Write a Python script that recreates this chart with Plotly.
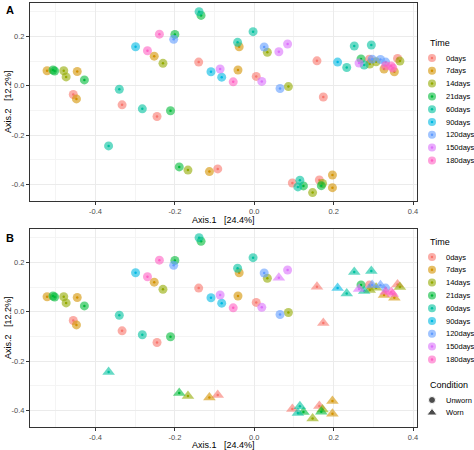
import plotly.graph_objects as go

time_levels = ["0days","7days","14days","21days","60days","90days","120days","150days","180days"]
time_colors = ["#F8766D","#D39200","#93AA00","#00BA38","#00C19F","#00B9E3","#619CFF","#DB72FB","#FF61C3"]
condition_levels = ["Unworn", "Worn"]

axis1 = [-0.522,-0.507,-0.503,-0.480,-0.474,-0.446,-0.428,-0.456,-0.448,-0.340,-0.333,-0.367,
         -0.299,-0.269,-0.252,-0.230,-0.239,-0.200,-0.203,-0.282,-0.245,-0.211,-0.139,-0.134,
         -0.140,-0.109,-0.086,-0.082,-0.053,-0.189,-0.167,-0.113,-0.092,
         -0.003,-0.042,-0.038,0.025,0.033,0.062,0.084,-0.041,0.005,0.019,0.065,0.086,
         0.158,0.174,0.210,0.233,0.252,0.295,
         0.269,0.264,0.277,0.291,0.290,0.297,0.307,0.318,0.331,0.327,0.331,0.345,0.349,0.353,0.361,0.367,
         0.096,0.115,0.110,0.124,0.147,0.164,0.172,0.169,0.197,0.197]
axis2 = [0.061,0.064,0.060,0.061,0.036,0.058,0.024,-0.035,-0.053,-0.014,-0.077,-0.243,
         0.158,0.142,0.120,0.091,0.209,0.208,0.188,-0.093,-0.124,-0.101,0.300,0.285,
         0.096,0.057,0.068,0.035,0.016,-0.328,-0.341,-0.347,-0.336,
         0.219,0.176,0.158,0.157,0.136,0.138,0.169,0.064,0.038,0.018,-0.011,-0.003,
         0.101,-0.045,0.096,0.074,0.161,0.165,
         0.109,0.092,0.084,0.088,0.108,0.108,0.097,0.107,0.096,0.068,0.081,0.080,0.072,0.057,0.111,0.100,
         -0.393,-0.382,-0.409,-0.405,-0.432,-0.381,-0.395,-0.404,-0.361,-0.412]
time = ["7days","21days","21days","14days","14days","7days","21days","0days","7days","60days","0days","60days",
        "90days","180days","7days","14days","180days","21days","120days","60days","0days","21days","60days","21days",
        "0days","90days","150days","90days","180days","21days","14days","7days","0days",
        "60days","60days","7days","120days","14days","150days","150days","7days","0days","150days","120days","14days",
        "0days","0days","90days","60days","60days","60days",
        "21days","150days","60days","14days","0days","120days","14days","120days","120days","7days","180days","180days","180days","7days","0days","14days",
        "0days","60days","60days","21days","14days","0days","14days","21days","7days","7days"]
condition = ["Unworn"]*11 + ["Worn"] + ["Unworn"]*17 + ["Worn"]*4 + \
            ["Unworn"]*5 + ["Worn"] + ["Unworn"]*6 + ["Worn"]*6 + \
            ["Unworn","Worn","Worn","Worn","Unworn","Worn","Worn","Worn","Unworn","Worn","Worn","Worn","Worn","Worn","Worn","Worn"] + \
            ["Worn"]*10

fig = go.Figure()
panels = [("x", "y", False), ("x2", "y2", True)]
for xa, ya, use_shape in panels:
    for t, c in zip(time_levels, time_colors):
        idx = [i for i, v in enumerate(time) if v == t]
        xs = [axis1[i] for i in idx]
        ys = [axis2[i] for i in idx]
        syms = [("triangle-up" if condition[i] == "Worn" else "circle") if use_shape else "circle" for i in idx]
        sizes = [11 if s == "triangle-up" else 9 for s in syms]
        fig.add_trace(go.Scatter(x=xs, y=ys, mode="markers", xaxis=xa, yaxis=ya,
                                 marker=dict(color=c, size=sizes, symbol=syms, opacity=0.6, line=dict(width=0)),
                                 showlegend=False, hoverinfo="skip"))
        fig.add_trace(go.Scatter(x=xs, y=ys, mode="markers", xaxis=xa, yaxis=ya,
                                 marker=dict(color=c, size=2.5, opacity=1), showlegend=False))

# hand-built legends on an overlay axis measured in pixels (0 at top)
ann = []
step = 12.8
def time_legend(top):
    ys = [top + 15 + step * i for i in range(len(time_levels))]
    fig.add_trace(go.Scatter(x=[432] * len(ys), y=ys, mode="markers", xaxis="x3", yaxis="y3",
                             marker=dict(color=time_colors, size=8, opacity=0.6), showlegend=False, hoverinfo="skip"))
    fig.add_trace(go.Scatter(x=[432] * len(ys), y=ys, mode="markers", xaxis="x3", yaxis="y3",
                             marker=dict(color=time_colors, size=2.5), showlegend=False, hoverinfo="skip"))
    ann.append(dict(text="Time", x=428, y=top, xref="x3", yref="y3", showarrow=False,
                    xanchor="left", yanchor="middle", font=dict(size=9)))
    for lab, yy in zip(time_levels, ys):
        ann.append(dict(text=lab, x=444, y=yy, xref="x3", yref="y3", showarrow=False,
                        xanchor="left", yanchor="middle", font=dict(size=7.5)))
time_legend(43)
time_legend(242)
ctop = 385
cys = [ctop + 15 + step * i for i in range(len(condition_levels))]
fig.add_trace(go.Scatter(x=[432] * 2, y=cys, mode="markers", xaxis="x3", yaxis="y3",
                         marker=dict(color="black", size=[7, 9], symbol=["circle", "triangle-up"]),
                         showlegend=False, hoverinfo="skip"))
ann.append(dict(text="Condition", x=428, y=ctop, xref="x3", yref="y3", showarrow=False,
                xanchor="left", yanchor="middle", font=dict(size=9)))
for lab, yy in zip(condition_levels, cys):
    ann.append(dict(text=lab, x=444, y=yy, xref="x3", yref="y3", showarrow=False,
                    xanchor="left", yanchor="middle", font=dict(size=7.5)))

axis_common = dict(range=[-0.565, 0.41], showline=True, linecolor="#333333", mirror=True, linewidth=1,
                   gridcolor="#ebebeb", zeroline=False, tickvals=[-0.4, -0.2, 0.0, 0.2, 0.4],
                   ticktext=["-0.4", "-0.2", "0.0", "0.2", "0.4"], ticks="outside", ticklen=3, tickcolor="#333333",
                   tickfont=dict(size=7.5, color="#4d4d4d"),
                   minor=dict(dtick=0.1, tick0=0.1, showgrid=True, gridcolor="#f4f4f4"))
yaxis_common = dict(axis_common, range=[-0.466, 0.335], tickvals=[-0.4, -0.2, 0.0, 0.2],
                    ticktext=["-0.4", "-0.2", "0.0", "0.2"])
for ty, txt in [(0.512, "Axis.1   [24.4%]"), (0.012, "Axis.1   [24.4%]")]:
    ann.append(dict(text=txt, x=0.4715, y=ty, xref="paper", yref="paper", showarrow=False,
                    xanchor="center", yanchor="middle", font=dict(size=9)))
for ty in [0.7733, 0.2711]:
    ann.append(dict(text="Axis.2   [12.2%]", x=0.017, y=ty, xref="paper", yref="paper", showarrow=False,
                    textangle=-90, xanchor="center", yanchor="middle", font=dict(size=9)))
ann += [
    dict(text="<b>A</b>", x=0.008, y=0.995, xref="paper", yref="paper", showarrow=False,
         xanchor="left", yanchor="top", font=dict(size=11)),
    dict(text="<b>B</b>", x=0.008, y=0.49, xref="paper", yref="paper", showarrow=False,
         xanchor="left", yanchor="top", font=dict(size=11)),
]
fig.update_layout(
    width=474, height=450, margin=dict(l=0, r=0, t=0, b=0), plot_bgcolor="rgba(0,0,0,0)", paper_bgcolor="white",
    font=dict(family="Liberation Sans, Arial", size=8, color="black"), showlegend=False,
    xaxis=dict(axis_common, domain=[0.0633, 0.8797], anchor="y"),
    yaxis=dict(yaxis_common, domain=[0.5533, 0.9933], anchor="x"),
    xaxis2=dict(axis_common, domain=[0.0633, 0.8797], anchor="y2"),
    yaxis2=dict(yaxis_common, domain=[0.0511, 0.4911], anchor="x2"),
    xaxis3=dict(domain=[0, 1], range=[0, 474], visible=False, fixedrange=True, anchor="y3"),
    yaxis3=dict(domain=[0, 1], range=[450, 0], visible=False, fixedrange=True, anchor="x3"),
    annotations=ann,
)
fig.write_html("out.html", post_script="document.body.style.margin='0';",
               config={"displayModeBar": False})
